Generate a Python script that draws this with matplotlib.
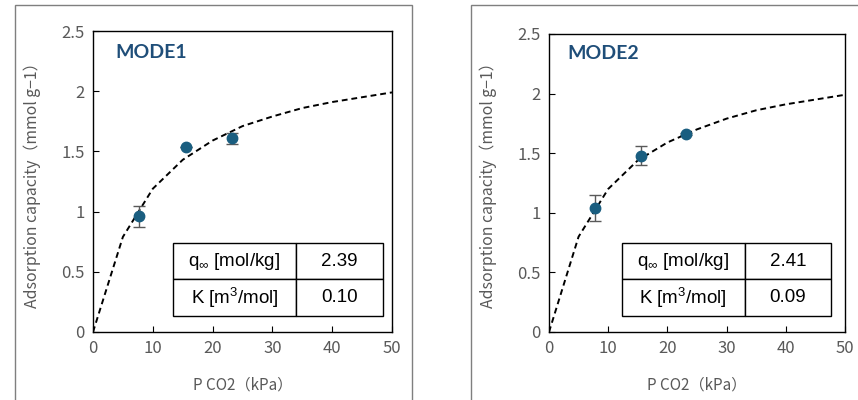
import matplotlib.pyplot as plt
from matplotlib.patches import Rectangle

# Data
p_points = [7.7, 15.5, 23.2]
mode1_q = [0.96, 1.54, 1.61]
mode1_err = [0.09, 0.0, 0.045]
mode2_q = [1.04, 1.48, 1.66]
mode2_err = [0.11, 0.08, 0.01]

p_fit = [0, 5, 10, 15, 20, 25, 30, 35, 40, 45, 50]
mode1_fit = [0, 0.79, 1.19, 1.43, 1.59, 1.71, 1.79, 1.86, 1.91, 1.95, 1.99]
mode2_fit = [0, 0.80, 1.20, 1.44, 1.59, 1.70, 1.79, 1.86, 1.91, 1.95, 1.99]

table1 = [["q$_{\\infty}$ [mol/kg]", "2.39"], ["K [m$^3$/mol]", "0.10"]]
table2 = [["q$_{\\infty}$ [mol/kg]", "2.41"], ["K [m$^3$/mol]", "0.09"]]

plt.rcParams['mathtext.fontset'] = 'custom'
plt.rcParams['mathtext.rm'] = 'Liberation Sans'
plt.rcParams['mathtext.it'] = 'Liberation Sans'

gray = "#595959"
dot = "#1a5e80"
jp = ['Noto Sans CJK JP', 'DejaVu Sans']

W, H = 858, 400
fig = plt.figure(figsize=(W / 100, H / 100), dpi=100)

# outer chart frames
fig.add_artist(Rectangle((15 / W, -0.05), (412 - 15) / W, (395 + 20) / H,
                         transform=fig.transFigure, fill=False, ec="#7f7f7f", lw=1))
fig.add_artist(Rectangle((471 / W, -0.05), (870 - 471) / W, (395 + 20) / H,
                         transform=fig.transFigure, fill=False, ec="#7f7f7f", lw=1))

panels = [
    ([93 / W, 0.17, 299 / W, 0.7525], mode1_q, mode1_err, mode1_fit, table1, "MODE1",
     [0.268, 0.053, 0.702, 0.243], 0.584, (0.074, 0.927), 32),
    ([549 / W, 0.17, 296 / W, 0.745], mode2_q, mode2_err, mode2_fit, table2, "MODE2",
     [0.246, 0.054, 0.706, 0.245], 0.589, (0.061, 0.936), 488),
]

for pos, q, err, fit, tab, name, tbox, col1, lab_xy, ylab_x in panels:
    ax = fig.add_axes(pos)
    ax.plot(p_fit, fit, color="black", lw=1.4, ls=(0, (3, 2)), zorder=2)
    ax.errorbar(p_points, q, yerr=err, fmt="none", ecolor=gray, elinewidth=1,
                capsize=4, capthick=1, zorder=3)
    ax.plot(p_points, q, "o", color=dot, ms=7.5, zorder=4)
    ax.set_xlim(0, 50)
    ax.set_ylim(0, 2.5)
    ax.set_xticks([0, 10, 20, 30, 40, 50])
    ax.set_yticks([0, 0.5, 1, 1.5, 2, 2.5])
    ax.set_yticklabels(["0", "0.5", "1", "1.5", "2", "2.5"])
    ax.tick_params(direction="in", length=4, width=0.8, colors="black",
                   labelcolor=gray, labelsize=12, pad=6)
    for lbl in ax.get_xticklabels() + ax.get_yticklabels():
        lbl.set_family(jp)
    for s in ax.spines.values():
        s.set_color("black")
        s.set_linewidth(1)
    ax.text(lab_xy[0], lab_xy[1], name, transform=ax.transAxes, fontsize=14,
            fontweight="bold", color="#1f4e79", family="Lato", va="center")

    t = ax.table(cellText=tab, bbox=tbox, cellLoc="center",
                 colWidths=[col1, 1 - col1])
    t.auto_set_font_size(False)
    for cell in t.get_celld().values():
        cell.set_edgecolor("black")
        cell.set_linewidth(1)
        cell.get_text().set_fontsize(13.5)
        cell.get_text().set_family("Liberation Sans")
    t.set_zorder(5)

    # axis labels placed in figure pixels
    fig.text(ylab_x / W, 1 - 181 / H, "Adsorption capacity（mmol g−1）", rotation=90,
             ha="center", va="center", color=gray, fontsize=11.4, family=jp)
    cx = pos[0] + pos[2] / 2
    fig.text(cx, 1 - 385 / H, "P CO2（kPa）", ha="center", va="center",
             color=gray, fontsize=11, family=jp)

fig.savefig("out.png", dpi=100)
